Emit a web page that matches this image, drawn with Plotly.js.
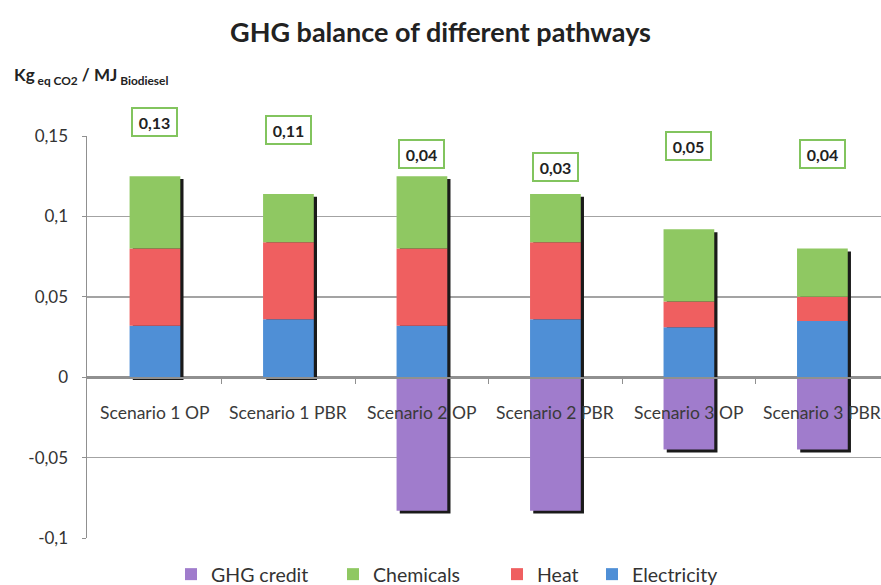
<!DOCTYPE html>
<html>
<head>
<meta charset="utf-8">
<script src="https://cdn.plot.ly/plotly-3.0.1.min.js"></script>
<style>html,body{margin:0;padding:0;background:#fff;}#chart{width:881px;height:585px;}</style>
</head>
<body>
<div id="chart"></div>
<script>
const categories = ["Scenario 1 OP", "Scenario 1 PBR", "Scenario 2 OP", "Scenario 2 PBR", "Scenario 3 OP", "Scenario 3 PBR"];
const electricity = [0.032, 0.036, 0.032, 0.036, 0.031, 0.035];
const heat = [0.048, 0.048, 0.048, 0.048, 0.016, 0.015];
const chemicals = [0.045, 0.030, 0.045, 0.030, 0.045, 0.030];
const ghgCredit = [0, 0, -0.083, -0.083, -0.045, -0.045];
const netLabels = ["0,13", "0,11", "0,04", "0,03", "0,05", "0,04"];
const netLabelY = [0.159, 0.154, 0.139, 0.131, 0.144, 0.139];
const yTickVals = [-0.1, -0.05, 0, 0.05, 0.1, 0.15];
const yTickText = ["-0,1", "-0,05", "0", "0,05", "0,1", "0,15"];

const FONT = "Lato, 'Open Sans', sans-serif";
const Y_RANGE = [-0.1, 0.15];
const BW = 0.38;
const xIdx = categories.map((c, i) => i);
const posTotal = xIdx.map(i => electricity[i] + heat[i] + chemicals[i]);
const sh = 0.0018;

const shadow = {
  type: 'bar', x: xIdx,
  base: xIdx.map(i => ghgCredit[i] - sh),
  y: xIdx.map(i => posTotal[i] - ghgCredit[i]),
  width: BW, offset: -BW / 2 + 0.024,
  marker: { color: '#1a1a1a' }, showlegend: false, hoverinfo: 'skip'
};
function seg(name, vals, color, legendId) {
  return { type: 'bar', name: name, x: xIdx, y: vals, width: BW, legend: legendId,
    marker: { color: color, line: { width: 0 } } };
}
const traces = [
  shadow,
  seg('Electricity', electricity, '#4f8fd6', 'legend4'),
  seg('Heat', heat, '#ef5f60', 'legend3'),
  seg('Chemicals', chemicals, '#8fc862', 'legend2'),
  seg('GHG credit', ghgCredit, '#a07ccc', 'legend')
];

const annotations = [];
categories.forEach((c, i) => {
  annotations.push({ x: i, y: 0, xref: 'x', yref: 'y', text: c, showarrow: false,
    yanchor: 'top', yshift: -23, font: { family: FONT, size: 17.5, color: '#3a3a3a' } });
  annotations.push({ x: i, y: (netLabelY[i] - Y_RANGE[0]) / (Y_RANGE[1] - Y_RANGE[0]),
    xref: 'x', yref: 'paper', xanchor: 'center', yanchor: 'middle', text: '<b>' + netLabels[i] + '</b>',
    showarrow: false, font: { family: FONT, size: 16, color: '#222' },
    bgcolor: '#fff', bordercolor: '#82c45e', borderwidth: 2, borderpad: 2, width: 39, height: 22 });
});
annotations.push({ xref: 'paper', yref: 'paper', x: -0.094, y: 1.15, xanchor: 'left', yanchor: 'middle',
  showarrow: false, align: 'left',
  text: '<b>Kg</b><sub><b> eq CO2</b></sub><b> / MJ</b><sub><b> Biodiesel</b></sub>',
  font: { family: FONT, size: 17, color: '#222' } });

function leg(xPx) {
  return { orientation: 'h', xref: 'container', x: xPx / 881, xanchor: 'left',
    yref: 'container', y: 0.018, yanchor: 'middle', itemwidth: 30,
    bgcolor: 'rgba(0,0,0,0)', font: { family: FONT, size: 19.5, color: '#333' } };
}

const layout = {
  width: 881, height: 585,
  margin: { l: 87, r: 0, t: 136, b: 47 },
  paper_bgcolor: '#fff', plot_bgcolor: '#fff',
  barmode: 'relative',
  title: { text: '<b>GHG balance of different pathways</b>', x: 0.5, xanchor: 'center',
    y: 0.944, yanchor: 'middle', font: { family: FONT, size: 27, color: '#222' } },
  xaxis: { range: [-0.509, 5.439], showticklabels: false, showgrid: false, zeroline: false,
    showline: true, linecolor: '#909090', linewidth: 1.5,
    anchor: 'free', position: (0 - Y_RANGE[0]) / (Y_RANGE[1] - Y_RANGE[0]),
    tickvals: xIdx.map(i => i + 0.5), ticks: 'outside', ticklen: 5, tickcolor: '#909090',
    fixedrange: true },
  yaxis: { range: Y_RANGE, tickvals: yTickVals, ticktext: yTickText,
    showgrid: true, gridcolor: '#a3a3a3', gridwidth: 1.5,
    zeroline: true, zerolinecolor: '#909090', zerolinewidth: 1.5,
    showline: true, linecolor: '#909090', linewidth: 1.5,
    ticks: 'outside', ticklen: 4, tickcolor: '#909090', ticklabelstandoff: 10,
    tickfont: { family: FONT, size: 17, color: '#333' } },
  legend: leg(211 - 40),
  legend2: leg(373 - 40),
  legend3: leg(537 - 40),
  legend4: leg(632 - 40),
  annotations: annotations,
  showlegend: true
};
Plotly.newPlot('chart', traces, layout, { displayModeBar: false, staticPlot: true });
</script>
</body>
</html>
